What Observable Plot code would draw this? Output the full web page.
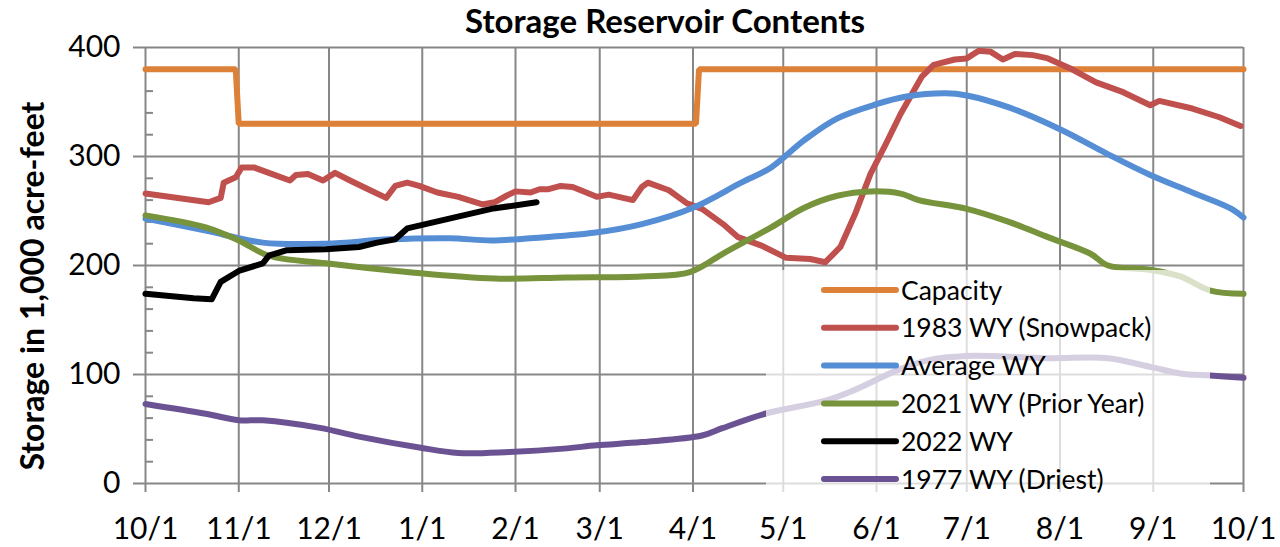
<!DOCTYPE html>
<html>
<head>
<meta charset="utf-8">
<script src="https://cdn.jsdelivr.net/npm/d3@7"></script>
<script src="https://cdn.jsdelivr.net/npm/@observablehq/plot@0.6"></script>
<style>
  html, body { margin: 0; padding: 0; background: #fff; }
  #chart svg { display: block; }
</style>
</head>
<body>
<div id="chart"></div>
<script>
// ---- Data (day = days since 10/1 of the water year) ----
const seriesNames = ["Capacity", "1983 WY (Snowpack)", "Average WY", "2021 WY (Prior Year)", "2022 WY", "1977 WY (Driest)"];
const seriesColors = ["#DE8138", "#C0504D", "#558ED5", "#77933C", "#000000", "#6B5292"];

const capacityDays = [0, 30, 31, 183, 184, 365];
const capacityVals = [380, 380, 330, 330, 380, 380];

const wy1983Days = [0, 21, 25, 26, 30, 32, 36, 41, 48, 50, 54, 59, 63, 68, 74, 80, 83, 87, 91, 97, 104, 112, 116, 120, 123, 128, 131, 134, 138, 142, 150, 154, 162, 165, 167, 174, 180, 185, 192, 197, 205, 213, 221, 226, 231, 236, 241, 246, 251, 258, 262, 269, 273, 277, 281, 285, 289, 295, 300, 308, 316, 325, 334, 337, 348, 357, 364];
const wy1983Vals = [266, 258, 262, 276, 281, 290, 290, 285, 278, 283, 284, 278, 285, 278, 270, 262, 273, 276, 273, 267, 263, 256, 258, 264, 268, 267, 270, 270, 273, 272, 263, 265, 260, 272, 276, 269, 257, 252, 238, 226, 218, 207, 206, 203, 217, 248, 284, 311, 339, 373, 384, 389, 390, 397, 396, 389, 394, 393, 390, 380, 368, 359, 347, 351, 344, 336, 328];

const averageDays = [0, 20, 39, 60, 81, 101, 115, 128, 149, 165, 182, 198, 208, 219, 230, 243, 253, 266, 273, 287, 304, 320, 334, 348, 361, 365];
const averageVals = [243, 232, 221, 220, 224, 225, 223, 225, 230, 238, 253, 276, 290, 315, 335, 348, 355, 358, 356, 345, 325, 302, 283, 267, 252, 244];

const wy2021Days = [0, 20, 31, 41, 60, 87, 116, 140, 165, 181, 192, 198, 208, 219, 230, 241, 251, 257, 273, 287, 300, 314, 320, 334, 344, 354, 365];
const wy2021Vals = [246, 235, 223, 209, 202, 194, 188, 189, 190, 194, 211, 220, 235, 253, 264, 268, 266, 260, 252, 240, 226, 211, 200, 196, 190, 177, 174];

const wy2022Days = [0, 16, 22, 25, 31, 39, 41, 47, 60, 71, 77, 83, 87, 101, 115, 130];
const wy2022Vals = [174, 170, 169, 185, 195, 202, 209, 214, 215, 217, 221, 224, 234, 243, 252, 258];

const wy1977Days = [0, 20, 31, 39, 58, 71, 91, 104, 121, 139, 150, 165, 185, 192, 206, 226, 235, 250, 260, 273, 300, 320, 334, 344, 354, 365];
const wy1977Vals = [73, 64, 58, 58, 51, 43, 33, 28, 29, 32, 35, 38, 44, 51, 64, 76, 85, 104, 113, 117, 115, 115, 107, 101, 99, 97];

const yMajorTicks = [0, 100, 200, 300, 400];
const yMinorTicks = [20, 40, 60, 80, 120, 140, 160, 180, 220, 240, 260, 280, 320, 340, 360, 380];
const monthTickDays = [0, 31, 61, 92, 123, 151, 182, 212, 243, 273, 304, 335, 365];

// ---- Build ----
const base = new Date(Date.UTC(2021, 9, 1));
const toDate = d => d3.utcDay.offset(base, d);
const mk = (days, vals, name) => days.map((d, i) => ({date: toDate(d), value: vals[i], name}));

const capacity = mk(capacityDays, capacityVals, seriesNames[0]);
const wy1983 = mk(wy1983Days, wy1983Vals, seriesNames[1]);
const average = mk(averageDays, averageVals, seriesNames[2]);
const wy2021 = mk(wy2021Days, wy2021Vals, seriesNames[3]);
const wy2022 = mk(wy2022Days, wy2022Vals, seriesNames[4]);
const wy1977 = mk(wy1977Days, wy1977Vals, seriesNames[5]);
const monthTicks = monthTickDays.map(toDate);

const grid = "#878787";
const lw = 6;
const font = "Lato, 'Open Sans', sans-serif";

const chart = Plot.plot({
  width: 1280,
  height: 547,
  marginLeft: 145,
  marginRight: 37,
  marginTop: 47,
  marginBottom: 64,
  style: {fontFamily: font, color: "#000", background: "#fff"},
  x: {type: "utc", domain: [toDate(0), toDate(365)]},
  y: {domain: [0, 400]},
  marks: [
    Plot.ruleY(yMajorTicks, {stroke: grid, strokeWidth: 2}),
    Plot.ruleX(monthTicks, {stroke: grid, strokeWidth: 2}),
    Plot.axisY({ticks: yMajorTicks, tickSize: 12, tickPadding: 13, fontSize: 30, stroke: grid, strokeWidth: 2, label: null, tickFormat: d => d}),
    Plot.axisY({ticks: yMinorTicks, tickSize: -8, tickPadding: 0, stroke: grid, strokeWidth: 2, label: null, tickFormat: () => ""}),
    Plot.axisX({ticks: monthTicks, tickSize: 9, tickPadding: 25, fontSize: 30, stroke: grid, strokeWidth: 2, label: null, tickFormat: d3.utcFormat("%-m/%-d")}),
    Plot.line(capacity, {x: "date", y: "value", stroke: seriesColors[0], strokeWidth: lw, strokeLinejoin: "miter"}),
    Plot.line(wy1983, {x: "date", y: "value", stroke: seriesColors[1], strokeWidth: lw, curve: "linear", strokeLinejoin: "round", strokeLinecap: "round"}),
    Plot.line(average, {x: "date", y: "value", stroke: seriesColors[2], strokeWidth: lw, curve: "catmull-rom", strokeLinejoin: "round", strokeLinecap: "round"}),
    Plot.line(wy2021, {x: "date", y: "value", stroke: seriesColors[3], strokeWidth: lw, curve: "catmull-rom", strokeLinejoin: "round", strokeLinecap: "round"}),
    Plot.line(wy2022, {x: "date", y: "value", stroke: seriesColors[4], strokeWidth: lw, curve: "linear", strokeLinejoin: "round", strokeLinecap: "round"}),
    Plot.line(wy1977, {x: "date", y: "value", stroke: seriesColors[5], strokeWidth: lw, curve: "catmull-rom", strokeLinejoin: "round", strokeLinecap: "round"})
  ]
});

document.getElementById("chart").appendChild(chart);

// ---- Title, y label, legend ----
const svg = d3.select(chart);

svg.append("text")
  .attr("x", 665).attr("y", 33)
  .attr("text-anchor", "middle")
  .attr("font-family", font).attr("font-weight", "bold").attr("font-size", 33)
  .attr("fill", "#000")
  .text("Storage Reservoir Contents");

svg.append("text")
  .attr("transform", "translate(44,286) rotate(-90)")
  .attr("text-anchor", "middle")
  .attr("font-family", font).attr("font-weight", "bold").attr("font-size", 32)
  .attr("fill", "#000")
  .text("Storage in 1,000 acre-feet");

const leg = svg.append("g");
leg.append("rect")
  .attr("x", 766).attr("y", 270).attr("width", 444).attr("height", 225)
  .attr("fill", "#fff").attr("fill-opacity", 0.72);
seriesNames.forEach((name, i) => {
  const y = 290 + i * 37.8;
  leg.append("line")
    .attr("x1", 824).attr("x2", 896).attr("y1", y).attr("y2", y)
    .attr("stroke", seriesColors[i]).attr("stroke-width", lw).attr("stroke-linecap", "round");
  leg.append("text")
    .attr("x", 901).attr("y", y).attr("dy", "0.36em")
    .attr("text-anchor", "start")
    .attr("font-family", font).attr("font-size", 26.5).attr("fill", "#000")
    .text(name);
});
</script>
</body>
</html>
